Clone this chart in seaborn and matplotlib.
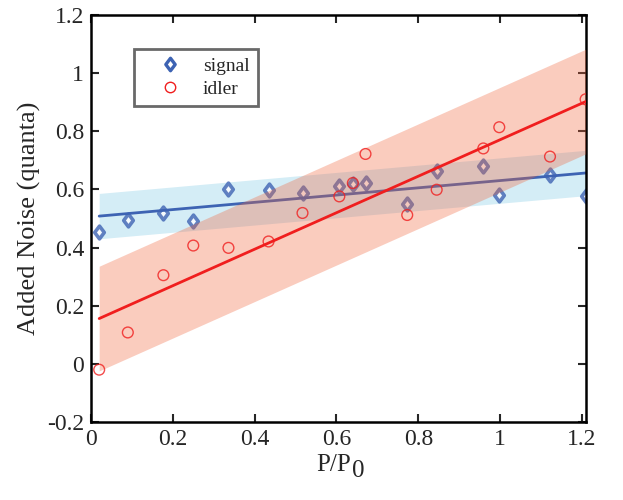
import numpy as np
import pandas as pd
import matplotlib
matplotlib.use("Agg")
import matplotlib.pyplot as plt
from matplotlib.path import Path
from matplotlib.lines import Line2D
import seaborn as sns

# ---- data ----
x_vals = [0.02, 0.09, 0.177, 0.25, 0.336, 0.434, 0.517, 0.607, 0.64, 0.671,
          0.773, 0.845, 0.959, 0.998, 1.122, 1.209]
signal = [0.454, 0.494, 0.519, 0.492, 0.603, 0.597, 0.588, 0.611, 0.617, 0.622,
          0.549, 0.665, 0.679, 0.581, 0.648, 0.576]
idler = [-0.02, 0.108, 0.305, 0.407, 0.399, 0.421, 0.519, 0.576, 0.622, 0.722,
         0.512, 0.599, 0.741, 0.814, 0.713, 0.91]
signal_band = 0.078   # half-width of shaded band
idler_band = 0.18

x_ticks = [0, 0.2, 0.4, 0.6, 0.8, 1, 1.2]
x_tick_labels = ["0", "0.2", "0.4", "0.6", "0.8", "1", "1.2"]
y_ticks = [-0.2, 0, 0.2, 0.4, 0.6, 0.8, 1, 1.2]
y_tick_labels = ["-0.2", "0", "0.2", "0.4", "0.6", "0.8", "1", "1.2"]

df = pd.DataFrame({"x": x_vals, "signal": signal, "idler": idler})

sns.set_style("white")
plt.rcParams["font.family"] = ["Liberation Serif", "DejaVu Serif"]

fig = plt.figure(figsize=(6.23, 5.0), dpi=100)
ax = fig.add_axes([91 / 623, 1 - 422 / 500, (586 - 91) / 623, (422 - 15) / 500])

blue = "#3d63b3"
red = "#f01e1e"
diamond = Path([(0, 1), (0.75, 0), (0, -1), (-0.75, 0), (0, 1)],
               [Path.MOVETO, Path.LINETO, Path.LINETO, Path.LINETO, Path.CLOSEPOLY])

xs = np.array(x_vals)
xline = np.linspace(xs.min(), xs.max(), 50)

# signal band
ps = np.polyfit(xs, signal, 1)
ys = np.polyval(ps, xline)
ax.fill_between(xline, ys - signal_band, ys + signal_band, color="#d4edf6",
                lw=0, zorder=1)
sns.regplot(data=df, x="x", y="signal", ax=ax, ci=None, marker=diamond,
            scatter_kws=dict(s=85, facecolors="white", edgecolors=blue,
                             linewidths=2.6, zorder=2),
            line_kws=dict(color=blue, lw=2, zorder=2), color=blue)

# idler band (on top, translucent)
pi = np.polyfit(xs, idler, 1)
yi = np.polyval(pi, xline)
ax.fill_between(xline, yi - idler_band, yi + idler_band, color="#f0643c",
                alpha=0.33, lw=0, zorder=3)
sns.regplot(data=df, x="x", y="idler", ax=ax, ci=None, marker="o",
            scatter_kws=dict(s=60, facecolors="none", edgecolors=red,
                             linewidths=1.0, zorder=5),
            line_kws=dict(color=red, lw=2, zorder=4), color=red)

ax.set_xlim(0, 1.21)
ax.set_ylim(-0.2, 1.2)
ax.set_xticks(x_ticks)
ax.set_xticklabels(x_tick_labels)
ax.set_yticks(y_ticks)
ax.set_yticklabels(y_tick_labels)
ax.tick_params(direction="in", length=6, width=1.5, labelsize=17,
               top=True, right=True, bottom=True, left=True, pad=5)
for sp in ax.spines.values():
    sp.set_visible(True)
    sp.set_color("black")
    sp.set_linewidth(1.8)

xl = ax.set_xlabel("P/P", fontsize=18, labelpad=3)
ax.annotate("0", xy=(1, 0), xycoords=xl, xytext=(0.5, -4),
            textcoords="offset points", fontsize=18, ha="left", va="bottom")
xl.set_x(0.49)
ax.set_ylabel("Added Noise (quanta)", fontsize=19, labelpad=4)

handles = [
    Line2D([], [], ls="none", marker=diamond, markersize=9, mfc="white",
           mec=blue, mew=2.4, label="signal"),
    Line2D([], [], ls="none", marker="o", markersize=7.5, mfc="none",
           mec=red, mew=1.0, label="idler"),
]
leg = ax.legend(handles=handles, loc="upper left",
                bbox_to_anchor=(0.087, 0.917), fontsize=14, frameon=True,
                fancybox=False, edgecolor="#444444", borderpad=0.45,
                handletextpad=0.3, labelspacing=0.25, handlelength=2.8,
                borderaxespad=0)
leg.get_frame().set_linewidth(2)

fig.savefig("out.png", dpi=100)
